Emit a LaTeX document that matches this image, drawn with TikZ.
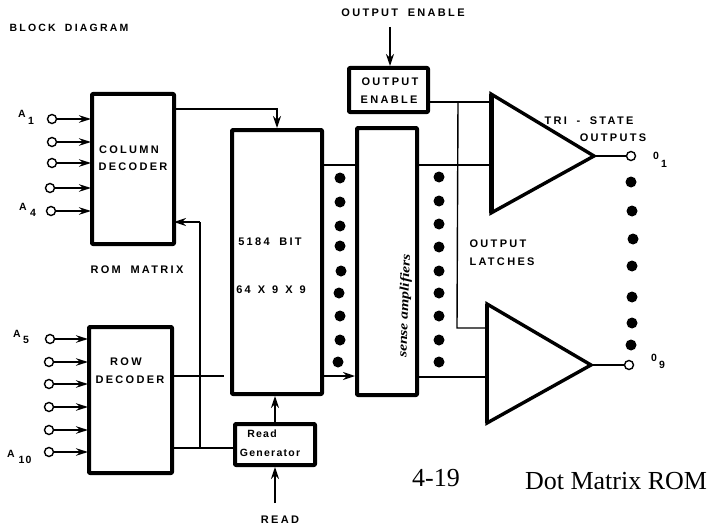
\documentclass[tikz,border=0pt]{standalone}
\usepackage{fontspec}
\setmainfont{Liberation Sans}
\newfontfamily\lab[LetterSpace=21,WordSpace=1.8]{Liberation Sans Bold}
\newfontfamily\labb[LetterSpace=12]{Liberation Sans Bold}
\newfontfamily\captfont{Liberation Serif}
\newfontfamily\handfont{Liberation Serif Bold Italic}
\usetikzlibrary{arrows.meta}
\tikzset{
  blockbox/.style={draw,line width=4pt,rounded corners=0.8pt,inner sep=0,line join=round},
  wire/.style={line width=1.4pt},
  inwire/.style={line width=1.7pt,-{Stealth[length=12pt,width=7.5pt]},shorten >=-1pt},
  tipwire/.style={line width=1.6pt,-{Stealth[length=12pt,width=8pt]}},
  port/.style={circle,draw,line width=1.4pt,fill=white,minimum size=9pt,inner sep=0},
  bigdot/.style={circle,fill=black,minimum size=11pt,inner sep=0},
  amp/.style={line width=3.4pt,line join=miter,miter limit=10},
  txt/.style={font=\lab\fontsize{11}{13}\selectfont,inner sep=0},
  sub/.style={font=\labb\fontsize{10.5}{12}\selectfont,inner sep=0},
  cptn/.style={font=\captfont\fontsize{26}{28}\selectfont,inner sep=0}
}
\begin{document}
\begin{tikzpicture}[x=1pt,y=-1pt]
\useasboundingbox (0,0) rectangle (710,527);
\fill[white] (0,0) rectangle (710,527);

% blocks
\node[blockbox,minimum width=82pt,minimum height=150pt] (col) at (133,169) {};
\node[blockbox,minimum width=83pt,minimum height=146pt] (row) at (130.5,400) {};
\node[blockbox,minimum width=90pt,minimum height=264pt] (main) at (277,262) {};
\node[blockbox,minimum width=60pt,minimum height=267pt] (latch) at (387,261.5) {};
\node[blockbox,minimum width=79pt,minimum height=44pt] (oe) at (388.5,90) {};
\node[blockbox,minimum width=80pt,minimum height=41pt] (rg) at (275,444.5) {};

% amplifiers
\coordinate (t1a) at (491,94); \coordinate (t1b) at (491,213); \coordinate (t1c) at (594,156);
\coordinate (t2a) at (487,304); \coordinate (t2b) at (487,423); \coordinate (t2c) at (591,365);
\draw[amp] (t1a) -- (t1c) -- (t1b) -- cycle;
\draw[amp] (t2a) -- (t2c) -- (t2b) -- cycle;
\draw[line width=5pt] (t1a) -- (t1b);
\draw[line width=4pt] (t2a) -- (t2b);

% ports
\foreach \n/\x/\y in {a1/52/119,a2/52/142,a3/52/163,a4/50/188,a5/51/211,
                      b1/50/339,b2/49/362,b3/49/384,b4/49/407,b5/49/430,b6/49/452}
  {\node[port] (\n) at (\x,\y) {};}
\node[port] (o1) at (631,156) {};
\node[port] (o9) at (629,365) {};

% input arrows
\foreach \n in {a1,a2,a3,a4,a5} {\draw[inwire] (\n) -- (\n -| col.west);}
\foreach \n in {b1,b2,b3,b4,b5,b6} {\draw[inwire] (\n) -- (\n -| row.west);}

% output wires
\draw[wire] (t1c) -- (o1);
\draw[wire] (t2c) -- (o9);

% connectors
\coordinate (c1) at (174,109);
\draw[wire,-{Stealth[length=12pt,width=8pt]}] (c1) -| (main.north);
\coordinate (r1) at (172,376); \coordinate (r1e) at (224,376);
\draw[wire] (r1) -- (r1e);
\coordinate (r2) at (172,448); \coordinate (j1) at (200,448); \coordinate (c2) at (174,222);
\draw[wire] (r2) -- (r2 -| rg.west);
\draw[wire] (j1) -- (j1 |- c2);
\draw[tipwire] (j1 |- c2) -- (c2);
\coordinate (m1) at (322,165); \coordinate (m2) at (322,376);
\draw[wire] (m1) -- (m1 -| latch.west);
\draw[tipwire] (m2) -- (m2 -| latch.west);
\coordinate (l1) at (417,165); \coordinate (l2) at (417,377);
\draw[wire] (l1) -- (l1 -| t1a);
\draw[wire] (l2) -- (l2 -| t2a);
\coordinate (oe1) at (428,102); \coordinate (j2) at (458,102); \coordinate (j3) at (457,328);
\draw[wire] (oe1) -- (oe1 -| t1a);
\draw[wire] (j2) -- (j3) -- (j3 -| t2a);
\draw[tipwire] (rg.north) -- (rg.north |- main.south);
\coordinate (rd) at (275,503);
\draw[tipwire] (rd) -- (rg.south);
\coordinate (oet) at (390,27);
\draw[tipwire] (oet) -- (oet |- oe.north);

% dots
\foreach \i/\x/\y in {1/340/178,2/340/202,3/340/226,4/340/246,5/341/271,6/339/293,7/340/316,8/340/340,9/338/362}
  {\node[bigdot] (p\i) at (\x,\y) {};}
\foreach \i/\y in {1/177,2/201,3/224,4/247,5/271,6/293,7/316,8/340,9/362}
  {\node[bigdot] (q\i) at (439,\y) {};}
\foreach \i/\x/\y in {1/631/182,2/632/211,3/633/239,4/632/266,5/632/297,6/632/323,7/631/345}
  {\node[bigdot] (s\i) at (\x,\y) {};}

% labels
\node[txt,font=\lab\fontsize{10.5}{12}\selectfont] (tb) at (69,28) {BLOCK DIAGRAM};
\node[txt] (toe) at (403,13) {OUTPUT ENABLE};
\node[txt] (t1) at (129,150) {COLUMN};
\node[txt] (t2) at (133,167) {DECODER};
\node[txt] (t3) at (137,270) {ROM MATRIX};
\node[txt] (t4) at (126,362) {ROW};
\node[txt] (t5) at (130,380) {DECODER};
\node[txt] (t6) at (270,242) {5184 BIT};
\node[txt] (t7) at (271,290) {64\hspace{7pt}X\hspace{7pt}9\hspace{7pt}X\hspace{7pt}9};
\node[txt] (t8) at (390,82) {OUTPUT};
\node[txt] (t9) at (389,100) {ENABLE};
\node[sub] (t10) at (262,434) {Read};
\node[sub] (t11) at (270,453) {Generator};
\node[txt] (t12) at (280,520) {READ};
\node[txt] (t13) at (589,121) {TRI - STATE};
\node[txt] (t14) at (613,138) {OUTPUTS};
\node[txt] (t15) at (498,244) {OUTPUT};
\node[txt] (t16) at (502,262) {LATCHES};

\node[sub] (la) at (22,114) {A};   \node[sub] (la1) at (31,121) {1};
\node[sub] (lb) at (23,207) {A};   \node[sub] (lb1) at (33,213) {4};
\node[sub] (lc) at (17,334) {A};   \node[sub] (lc1) at (26,340) {5};
\node[sub] (ld) at (11,454) {A};   \node[sub] (ld1) at (25,460) {10};
\node[sub] (le) at (656,156) {0};  \node[sub] (le1) at (664,164) {1};
\node[sub] (lf) at (654,358) {0};  \node[sub] (lf1) at (662,365) {9};

\node[inner sep=0,rotate=88,xscale=1.2,font=\handfont\fontsize{13}{15}\selectfont] (amp) at (405,306) {sense amplifiers};

\node[cptn] (n1) at (436,478) {4-19};
\node[cptn] (n2) at (616,481) {Dot Matrix ROM};
\end{tikzpicture}
\end{document}
